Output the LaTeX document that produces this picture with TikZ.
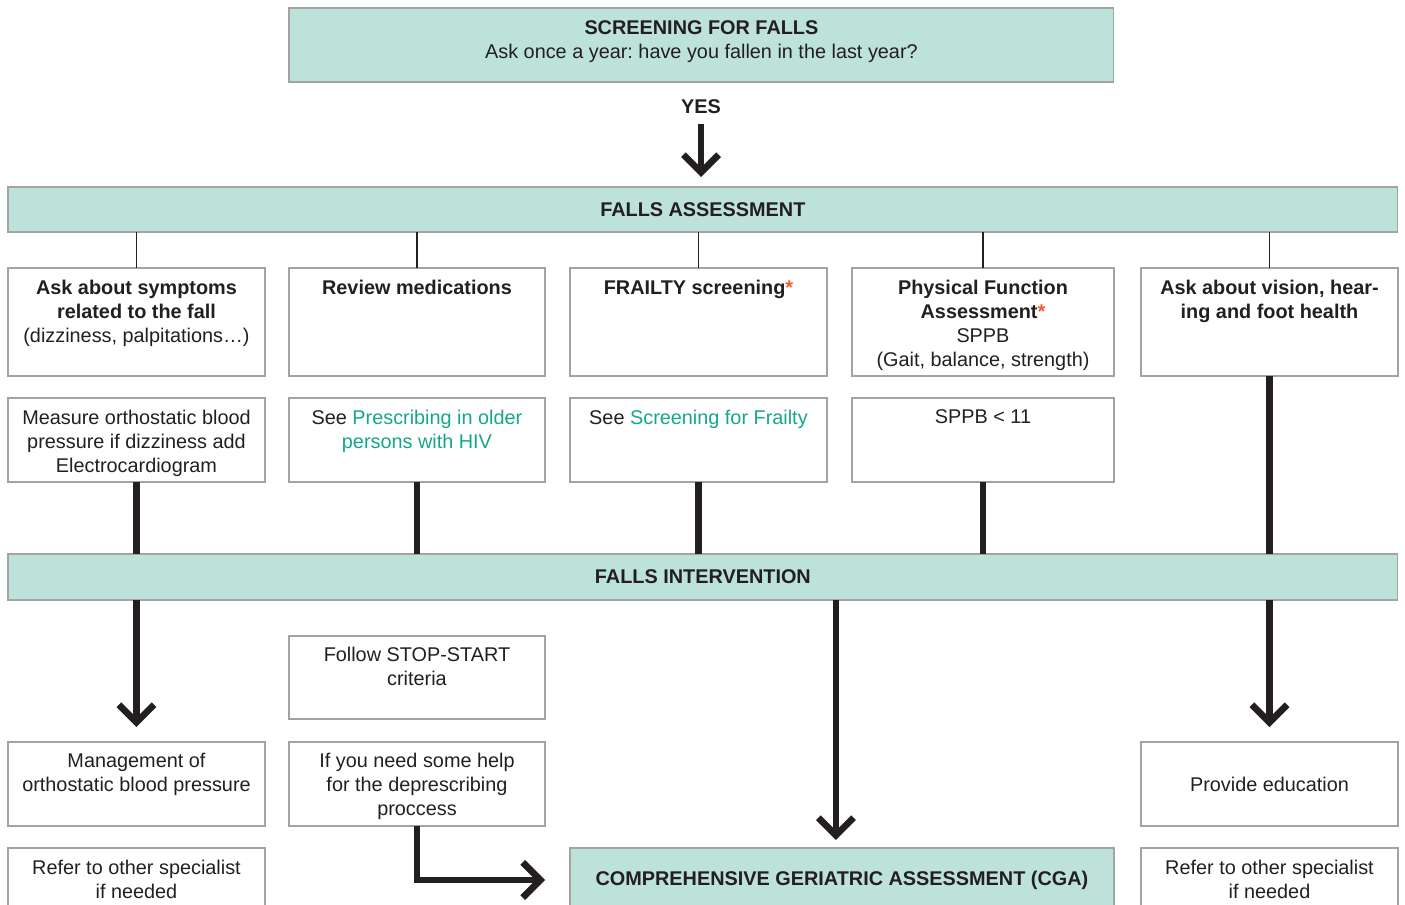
\documentclass[tikz,border=0pt]{standalone}
\usepackage{fontspec}
\setmainfont{Liberation Sans}
\usetikzlibrary{arrows.meta,positioning,calc}
\frenchspacing

\definecolor{fallteal}{HTML}{BCE2DA}
\definecolor{linkgreen}{HTML}{14A78B}
\definecolor{starorange}{HTML}{F15A29}
\definecolor{boxgray}{HTML}{A3A3A3}
\definecolor{inkdark}{HTML}{231F20}

\begin{document}
\begin{tikzpicture}[x=0.02cm,y=-0.02cm,
  font=\fontsize{11.3}{13.6}\selectfont,text=inkdark,
  box/.style={draw=boxgray,line width=0.7pt,outer sep=0pt,inner sep=0pt,anchor=north west},
  bar/.style={box,fill=fallteal,font=\fontsize{11.3}{13.6}\selectfont\bfseries},
  txt/.style={anchor=north,inner sep=0pt,align=center},
  tie/.style={draw=inkdark,line width=0.6pt},
  trunk/.style={draw=inkdark,line width=3.8pt},
  bigarr/.style={trunk,-{Straight Barb[length=10pt,width=20pt]}}]
  \path[use as bounding box] (0,0) rectangle (1405,905);
  \clip (0,0) rectangle (1405,905);

  % screening and assessment
  \node[box,fill=fallteal,minimum width=16.5cm,minimum height=1.48cm] (scr) at (289,8) {};
  \node[txt] (scrt) at ($(scr.north)+(0,12.7)$) {\textbf{SCREENING FOR FALLS}\\Ask once a year: have you fallen in the last year?};
  \node[inner sep=0pt,font=\fontsize{11.3}{13.6}\selectfont\bfseries] (yes) at (701,107) {YES};
  \node[bar,minimum width=27.8cm,minimum height=0.9cm] (fa) at (8,187) {FALLS ASSESSMENT};

  \node[box,minimum width=5.14cm,minimum height=2.16cm] (a1) at (8,268) {};
  \node[box,minimum width=5.12cm,minimum height=2.16cm] (a2) at (289,268) {};
  \node[box,minimum width=5.14cm,minimum height=2.16cm] (a3) at (570,268) {};
  \node[box,minimum width=5.24cm,minimum height=2.16cm] (a4) at (852,268) {};
  \node[box,minimum width=5.14cm,minimum height=2.16cm] (a5) at (1141,268) {};
  \node[txt] (a1t) at ($(a1.north)+(0,11.7)$) {\textbf{Ask about symptoms}\\\textbf{related to the fall}\\(dizziness, palpitations…)};
  \node[txt] (a2t) at ($(a2.north)+(0,11.7)$) {\textbf{Review medications}};
  \node[txt] (a3t) at ($(a3.north)+(0,11.7)$) {\textbf{FRAILTY screening\textcolor{starorange}{*}}};
  \node[txt] (a4t) at ($(a4.north)+(0,11.7)$) {\textbf{Physical Function}\\\textbf{Assessment\textcolor{starorange}{*}}\\SPPB\\(Gait, balance, strength)};
  \node[txt] (a5t) at ($(a5.north)+(0,11.7)$) {\textbf{Ask about vision, hear-}\\\textbf{ing and foot health}};

  \node[box,minimum width=5.14cm,minimum height=1.68cm] (b1) at (8,398) {};
  \node[box,minimum width=5.12cm,minimum height=1.68cm] (b2) at (289,398) {};
  \node[box,minimum width=5.14cm,minimum height=1.68cm] (b3) at (570,398) {};
  \node[box,minimum width=5.24cm,minimum height=1.68cm] (b4) at (852,398) {};
  \node[txt] (b1t) at ($(b1.north)+(0,11.7)$) {Measure orthostatic blood\\pressure if dizziness add\\Electrocardiogram};
  \node[txt] (b2t) at ($(b2.north)+(0,11.7)$) {See \textcolor{linkgreen}{Prescribing in older}\\\textcolor{linkgreen}{persons with HIV}};
  \node[txt] (b3t) at ($(b3.north)+(0,11.7)$) {See \textcolor{linkgreen}{Screening for Frailty}};
  \node[txt] (b4t) at ($(b4.north)+(0,11.7)$) {SPPB < 11};

  % intervention
  \node[bar,minimum width=27.8cm,minimum height=0.92cm] (fi) at (8,554) {FALLS INTERVENTION};

  \node[box,minimum width=5.12cm,minimum height=1.66cm] (ss) at (289,636) {};
  \node[txt] (sst) at ($(ss.north)+(0,10.7)$) {Follow STOP-START\\criteria};

  \node[box,minimum width=5.14cm,minimum height=1.68cm] (m1) at (8,742) {};
  \node[box,minimum width=5.12cm,minimum height=1.68cm] (h2) at (289,742) {};
  \node[box,minimum width=5.14cm,minimum height=1.68cm] (pe) at (1141,742) {Provide education};
  \node[txt] (m1t) at ($(m1.north)+(0,10.7)$) {Management of\\orthostatic blood pressure};
  \node[txt] (h2t) at ($(h2.north)+(0,10.7)$) {If you need some help\\for the deprescribing\\proccess};

  \node[box,minimum width=5.14cm,minimum height=1.6cm] (r1) at (8,848) {};
  \node[box,minimum width=5.14cm,minimum height=1.6cm] (r5) at (1141,848) {};
  \node[txt] (r1t) at ($(r1.north)+(0,11.7)$) {Refer to other specialist\\if needed};
  \node[txt] (r5t) at ($(r5.north)+(0,11.7)$) {Refer to other specialist\\if needed};
  \node[bar,minimum width=10.88cm,minimum height=1.28cm] (cga) at (570,848) {COMPREHENSIVE GERIATRIC ASSESSMENT (CGA)};
  \coordinate (cgatop) at ([xshift=-0.12cm]cga.north);

  % connectors
  \draw[bigarr,shorten <=0.2cm,shorten >=0.2cm] (yes) -- (yes |- fa.north);
  \foreach \b in {a1,a2,a3,a4,a5}
    \draw[tie] (\b.north) -- (\b.north |- fa.south);
  \foreach \b in {b1,b2,b3,b4,a5}
    \draw[trunk] (\b.south) -- (\b.south |- fi.north);
  \draw[bigarr,shorten >=0.3cm] (m1.north |- fi.south) -- (m1.north);
  \draw[bigarr,shorten >=0.3cm] (pe.north |- fi.south) -- (pe.north);
  \draw[bigarr,shorten >=0.16cm] (cgatop |- fi.south) -- (cgatop);
  \draw[bigarr,shorten >=0.5cm] (h2.south) |- (cga.west);
\end{tikzpicture}
\end{document}
